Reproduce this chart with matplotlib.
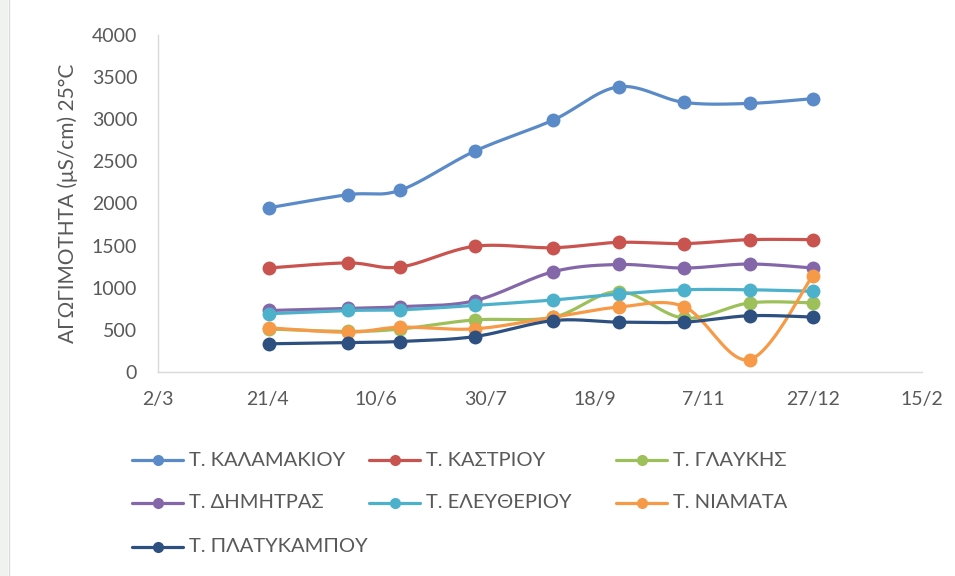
import numpy as np
import matplotlib
matplotlib.use("Agg")
import matplotlib.pyplot as plt
import matplotlib.dates as mdates
from matplotlib.lines import Line2D
from matplotlib.patches import Rectangle

plt.rcParams['font.family'] = ['Lato', 'DejaVu Sans']

# ---------------- data ----------------
dates = ["2013-04-22", "2013-05-28", "2013-06-21", "2013-07-25", "2013-08-30",
         "2013-09-29", "2013-10-29", "2013-11-28", "2013-12-27"]

series_names = ["Τ. ΚΑΛΑΜΑΚΙΟΥ", "Τ. ΚΑΣΤΡΙΟΥ", "Τ. ΓΛΑΥΚΗΣ", "Τ. ΔΗΜΗΤΡΑΣ",
                "Τ. ΕΛΕΥΘΕΡΙΟΥ", "Τ. ΝΙΑΜΑΤΑ", "Τ. ΠΛΑΤΥΚΑΜΠΟΥ"]

kalamakiou   = [1950, 2105, 2158, 2620, 2990, 3385, 3200, 3188, 3245]
kastriou     = [1235, 1295, 1246, 1492, 1475, 1539, 1524, 1571, 1571]
glaukis      = [510, 482, 510, 618, 650, 955, 640, 820, 820]
dimitras     = [730, 754, 775, 845, 1190, 1276, 1234, 1282, 1234]
eleftheriou  = [692, 730, 738, 790, 855, 925, 976, 976, 958]
niamata      = [524, 472, 532, 512, 650, 770, 775, 148, 1145]
platykampou  = [335, 350, 362, 420, 610, 592, 592, 668, 652]

series_values = [kalamakiou, kastriou, glaukis, dimitras, eleftheriou, niamata, platykampou]
colors = ["#5A8BC8", "#C9534F", "#9DC05A", "#8467A8", "#4DB1CC", "#F79A48", "#2D5080"]

x_start, x_end = "2013-03-02", "2014-02-15"
y_ticks = [0, 500, 1000, 1500, 2000, 2500, 3000, 3500, 4000]
y_label = "ΑΓΩΓΙΜΟΤΗΤΑ (μS/cm) 25°C"

# ---------------- figure ----------------
W, H = 955, 576
fig = plt.figure(figsize=(W / 100, H / 100), dpi=100)
fig.patch.set_facecolor("white")

ax_l, ax_r, ax_t, ax_b = 158, 922, 35, 372
ax = fig.add_axes([ax_l / W, 1 - ax_b / H, (ax_r - ax_l) / W, (ax_b - ax_t) / H])

xd = mdates.date2num([np.datetime64(d) for d in dates])
x0 = mdates.date2num(np.datetime64(x_start))
x1 = mdates.date2num(np.datetime64(x_end))
ymin, ymax = 0, 4000


def smooth(xs, ys, n=40):
    # Catmull-Rom (Excel-like smoothing) in screen-proportional space
    sx = (ax_r - ax_l) / (x1 - x0)
    sy = (ax_b - ax_t) / (ymax - ymin)
    P = np.column_stack([(np.asarray(xs) - x0) * sx, np.asarray(ys, float) * sy])
    out = [P[0]]
    m = len(P)
    for i in range(m - 1):
        p0 = P[i - 1] if i > 0 else P[i]
        p1, p2 = P[i], P[i + 1]
        p3 = P[i + 2] if i + 2 < m else P[i + 1]
        c1 = p1 + (p2 - p0) / 6.0
        c2 = p2 - (p3 - p1) / 6.0
        t = np.linspace(0, 1, n)[1:, None]
        seg = ((1 - t) ** 3) * p1 + 3 * ((1 - t) ** 2) * t * c1 + 3 * (1 - t) * t ** 2 * c2 + t ** 3 * p2
        out.extend(seg)
    out = np.array(out)
    return out[:, 0] / sx + x0, out[:, 1] / sy


for name, vals, c in zip(series_names, series_values, colors):
    sxv, syv = smooth(xd, vals)
    ax.plot(sxv, syv, color=c, lw=2.3, solid_capstyle="round", zorder=2)
    ax.plot(xd, vals, 'o', color=c, ms=10, zorder=3, markeredgewidth=0)

ax.set_xlim(x0, x1)
ax.set_ylim(ymin, ymax)
xt = [x0 + 50 * k for k in range(8)]
ax.set_xticks(xt)
ax.set_xticklabels([f"{mdates.num2date(v).day}/{mdates.num2date(v).month}" for v in xt])
ax.set_yticks(y_ticks)

txt_col = "#595959"
ax.tick_params(axis="both", length=0, labelsize=14, colors=txt_col)
ax.tick_params(axis="y", pad=15)
ax.tick_params(axis="x", pad=14)
for s in ["top", "right"]:
    ax.spines[s].set_visible(False)
for s in ["left", "bottom"]:
    ax.spines[s].set_color("#D9D9D9")
    ax.spines[s].set_linewidth(1.0)
ax.set_ylabel(y_label, fontsize=15, color=txt_col, labelpad=10)

# ---------------- legend (3 columns) ----------------
col_x = [132, 369, 616]
row_y = [460, 503, 547]
for i, (name, c) in enumerate(zip(series_names, colors)):
    r, k = divmod(i, 3)
    lx, ly = col_x[k], row_y[r]
    fx0, fx1 = lx / W, (lx + 51) / W
    fy = 1 - ly / H
    fig.add_artist(Line2D([fx0, fx1], [fy, fy], color=c, lw=2.3,
                          transform=fig.transFigure, solid_capstyle="round"))
    fig.add_artist(Line2D([(fx0 + fx1) / 2], [fy], marker='o', ms=8, color=c,
                          markeredgewidth=0, transform=fig.transFigure))
    fig.text((lx + 57) / W, fy, name, fontsize=14.5, color=txt_col,
             va="center", ha="left")

# faint screenshot frame on the left
fig.add_artist(Rectangle((0, 0), 8 / W, 1, transform=fig.transFigure,
                         facecolor="#EEF3EF", edgecolor="none", zorder=0))
fig.add_artist(Line2D([9 / W, 9 / W], [0, 1], color="#DADADA", lw=1,
                      transform=fig.transFigure))

fig.savefig("out.png", dpi=100, facecolor="white")
